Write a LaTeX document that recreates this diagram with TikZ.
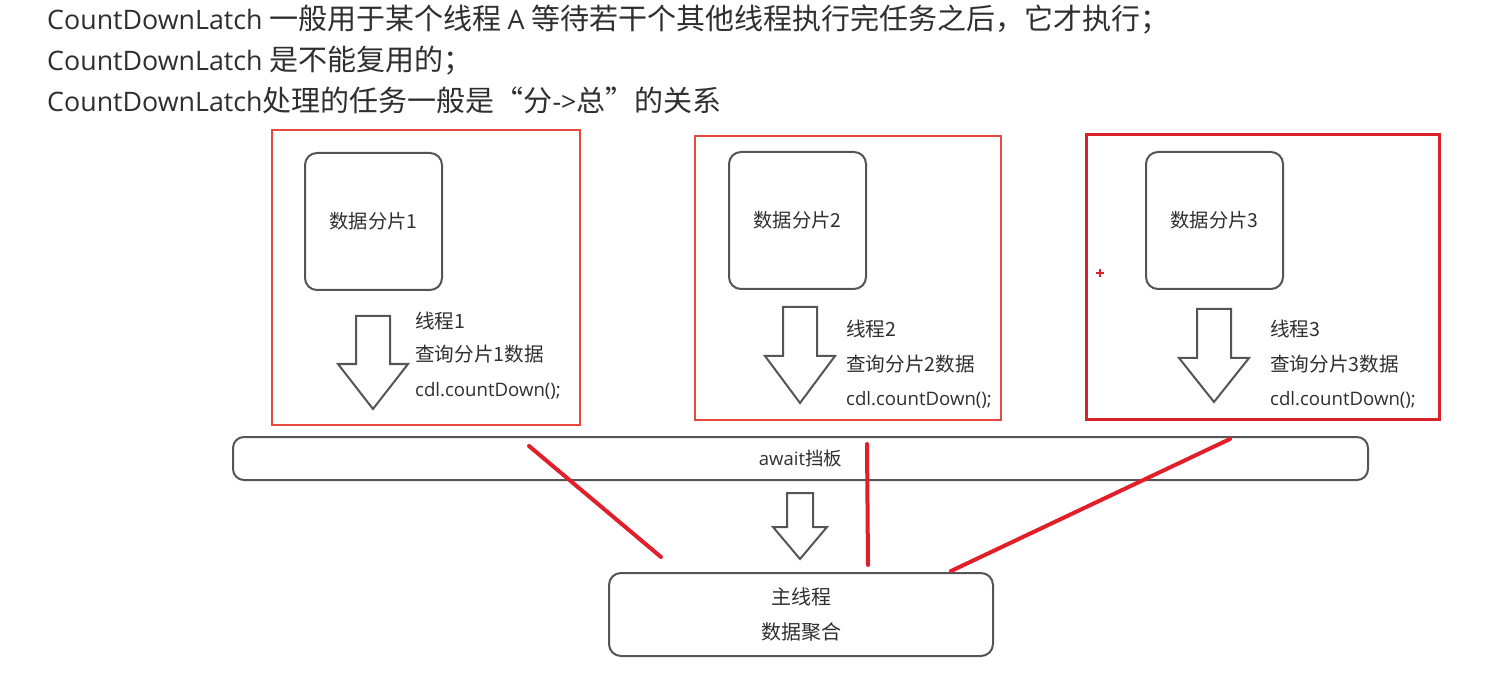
\documentclass[tikz,border=0pt]{standalone}
\usepackage{fontspec}
\setmainfont{Noto Sans CJK SC}
\newfontfamily\latf{Open Sans}
\newcommand\HeadLat[1]{{\latf\fontsize{26.8}{30}\selectfont #1}}
\newcommand\NoteLat[1]{{\latf\fontsize{18.6}{22}\selectfont #1}}
\definecolor{txt}{HTML}{2F2F2F}
\definecolor{edge}{HTML}{555555}
\definecolor{redA}{HTML}{E8493E}
\definecolor{redB}{HTML}{D9222B}
\definecolor{redL}{HTML}{E01F2B}
\begin{document}
\begin{tikzpicture}[x=1pt,y=-1pt,
  headline/.style={anchor=base west, inner sep=0pt, text=txt, font=\fontsize{29}{30}\selectfont},
  note/.style={anchor=base west, inner sep=0pt, text=txt, font=\fontsize{19.6}{22}\selectfont},
  redframe/.style={draw=redA, line width=1.6pt, anchor=north west, inner sep=0pt},
  redframeB/.style={draw=redB, line width=3pt, anchor=north west, inner sep=0pt},
  shard/.style={draw=edge, line width=2pt, rounded corners=12pt, anchor=north west, inner sep=0pt,
     minimum width=137pt, minimum height=137pt, text=txt, font=\fontsize{19.3}{22}\selectfont},
  hollow/.style={draw=edge, line width=2pt, fill=white, line join=miter},
  bar/.style={draw=edge, line width=2pt, rounded corners=11pt, anchor=north west, inner sep=0pt, text=txt,
     font=\fontsize{18.5}{22}\selectfont},
  redstroke/.style={draw=redL, line width=4pt, line cap=round}
]
\useasboundingbox (0,0) rectangle (1497,676);

% heading text
\node[headline] (h1) at (47,30) {\HeadLat{CountDownLatch} 一般用于某个线程 \HeadLat{A} 等待若干个其他线程执行完任务之后，它才执行；};
\node[headline] (h2) at (47,71) {\HeadLat{CountDownLatch} 是不能复用的；};
\node[headline] (h3) at (47,112) {\HeadLat{CountDownLatch}处理的任务一般是“分\HeadLat{->}总”的关系};

% red frames
\node[redframe, minimum width=308pt, minimum height=295pt] (f1) at (271,129) {};
\node[redframe, minimum width=306pt, minimum height=284pt] (f2) at (694,135) {};
\node[redframeB, minimum width=353pt, minimum height=285pt] (f3) at (1085,133) {};

% shard boxes
\node[shard] (s1) at (304,152) {数据分片1};
\node[shard] (s2) at (728,151) {数据分片2};
\node[shard] (s3) at (1145,151) {数据分片3};

% hollow down arrows
\draw[hollow] (356,316) -- (390,316) -- (390,364) -- (408,364) -- (373,409) -- (338,364) -- (356,364) -- cycle;
\draw[hollow] (783,307) -- (817,307) -- (817,356) -- (835,356) -- (800,403) -- (765,356) -- (783,356) -- cycle;
\draw[hollow] (1197,309) -- (1231,309) -- (1231,358) -- (1249,358) -- (1214,402) -- (1179,358) -- (1197,358) -- cycle;
\draw[hollow] (787,493) -- (813,493) -- (813,527) -- (827,527) -- (800,559) -- (773,527) -- (787,527) -- cycle;

% thread notes
\node[note] (a1) at (415,329) {线程1};
\node[note] (b1) at (415,362) {查询分片1数据};
\node[note] (c1) at (415,396) {\NoteLat{cdl.countDown();}};
\node[note] (a2) at (846,337) {线程2};
\node[note] (b2) at (846,371) {查询分片2数据};
\node[note] (c2) at (846,405) {\NoteLat{cdl.countDown();}};
\node[note] (a3) at (1270,337) {线程3};
\node[note] (b3) at (1270,371) {查询分片3数据};
\node[note] (c3) at (1270,405) {\NoteLat{cdl.countDown();}};

% await bar and main thread
\node[bar, minimum width=1135pt, minimum height=43pt] (await) at (232,436) {{\latf await}挡板};
\node[bar, rounded corners=12pt, minimum width=384pt, minimum height=83pt, align=center,
      font=\fontsize{20}{35}\selectfont] (main) at (608,572) {主线程\\数据聚合};

% red annotation strokes
\coordinate (r1a) at (529,446); \coordinate (r1b) at (661,557);
\coordinate (r2a) at (867,444); \coordinate (r2b) at (868,565);
\coordinate (r3a) at (1230,439); \coordinate (r3b) at (951,571);
\draw[redstroke] (r1a) -- (r1b);
\draw[redstroke] (r2a) -- (r2b);
\draw[redstroke] (r3a) -- (r3b);

% small plus mark
\coordinate (pl) at (1100,273);
\draw[draw=redB, line width=1.6pt] ([xshift=-4pt]pl) -- ([xshift=4pt]pl) ([yshift=-4pt]pl) -- ([yshift=4pt]pl);
\end{tikzpicture}
\end{document}
